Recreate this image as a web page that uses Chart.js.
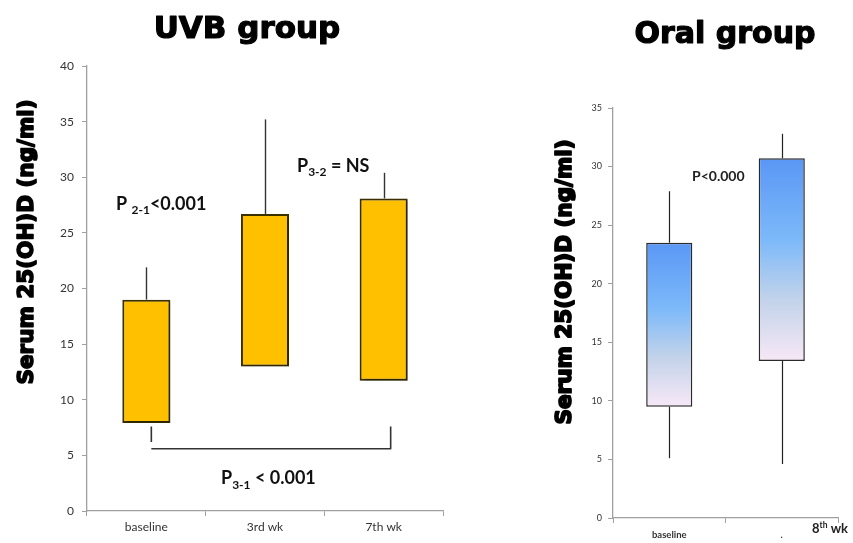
<!DOCTYPE html>
<html>
<head>
<meta charset="utf-8">
<script src="https://cdn.jsdelivr.net/npm/chart.js@4"></script>
<style>
  body { margin: 0; width: 853px; height: 543px; background: #fff; position: relative; overflow: hidden; }
  #uvb { position: absolute; left: 0; top: 0; }
  #oral { position: absolute; left: 540px; top: 0; }
</style>
</head>
<body>
<canvas id="uvb" width="450" height="543"></canvas>
<canvas id="oral" width="313" height="543"></canvas>
<script>
// UVB group
const uvbLabels = ["baseline", "3rd wk", "7th wk"];
const uvbBoxLow = [7.9, 13.0, 11.7];
const uvbBoxHigh = [19.0, 26.7, 28.1];
const uvbWhiskerHigh = [21.9, 35.2, 30.4];
const uvbBracketLeft = [7.6, 6.2];
const uvbBracketRight = [7.6, 5.6];

// Oral group
const oralLabels = ["baseline", "8th wk"];
const oralTickText = ["baseline", "."];
const oralBoxLow = [9.5, 13.4];
const oralBoxHigh = [23.5, 30.7];
const oralWhiskerLow = [5.1, 4.6];
const oralWhiskerHigh = [27.9, 32.8];

const AXIS = "#a0a0a0";

// draws runs of text with different fonts / baseline shifts
function drawRuns(ctx, runs, x, y) {
  let cx = x;
  runs.forEach(([t, font, dy]) => {
    ctx.font = font;
    ctx.fillText(t, cx, y + dy);
    cx += ctx.measureText(t).width;
  });
}

function heavyText(ctx, text, x, y, size, stroke) {
  ctx.font = "bold " + size + "px 'DejaVu Sans'";
  ctx.textAlign = "center";
  ctx.textBaseline = "alphabetic";
  ctx.fillStyle = "#000";
  ctx.strokeStyle = "#000";
  ctx.lineWidth = stroke || 1.1;
  ctx.lineJoin = "round";
  ctx.fillText(text, x, y);
  ctx.strokeText(text, x, y);
}

const whiskers = {
  id: "whiskers",
  afterDatasetsDraw(chart, args, opts) {
    const { ctx, scales: { x, y } } = chart;
    ctx.save();
    ctx.strokeStyle = opts.color;
    ctx.lineWidth = opts.width;
    opts.high.forEach((v, i) => {
      const px = Math.round(x.getPixelForValue(i)) + 0.5;
      ctx.beginPath();
      ctx.moveTo(px, y.getPixelForValue(opts.boxHigh[i]));
      ctx.lineTo(px, y.getPixelForValue(v));
      if (opts.low) {
        ctx.moveTo(px, y.getPixelForValue(opts.boxLow[i]));
        ctx.lineTo(px, y.getPixelForValue(opts.low[i]));
      }
      ctx.stroke();
    });
    ctx.restore();
  },
};

const barShadow = {
  id: "barShadow",
  beforeDatasetDraw(chart, args, opts) {
    if (!opts.on) return;
    const ctx = chart.ctx;
    ctx.save();
    ctx.shadowColor = "rgba(0,0,0,0.35)";
    ctx.shadowBlur = 3;
    ctx.shadowOffsetX = 2;
    ctx.shadowOffsetY = 2;
  },
  afterDatasetDraw(chart, args, opts) {
    if (opts.on) chart.ctx.restore();
  },
};

const uvbText = {
  id: "uvbText",
  afterDraw(chart) {
    const { ctx, scales: { x, y } } = chart;
    ctx.save();
    heavyText(ctx, "UVB group", 247, 38, 31, 1.2);
    ctx.save();
    ctx.translate(25, 242);
    ctx.rotate(-Math.PI / 2);
    heavyText(ctx, "Serum 25(OH)D (ng/ml)", 0, 8, 21.5, 1.6);
    ctx.restore();

    // bracket between baseline and 7th wk
    ctx.strokeStyle = "#333";
    ctx.lineWidth = 1.6;
    const xl = x.getPixelForValue(0) + 5;
    const xr = x.getPixelForValue(2) + 7;
    ctx.beginPath();
    ctx.moveTo(xl, y.getPixelForValue(uvbBracketLeft[0]));
    ctx.lineTo(xl, y.getPixelForValue(uvbBracketLeft[1]));
    ctx.moveTo(xl, y.getPixelForValue(uvbBracketRight[1]));
    ctx.lineTo(xr, y.getPixelForValue(uvbBracketRight[1]));
    ctx.lineTo(xr, y.getPixelForValue(uvbBracketRight[0]));
    ctx.stroke();

    ctx.fillStyle = "#111";
    ctx.textAlign = "left";
    ctx.textBaseline = "alphabetic";
    const big = "bold 18px Lato", sub = "bold 12px Lato";
    drawRuns(ctx, [["P ", big, 0], ["2-1", sub, 4], ["<0.001", big, 0]], 116, 210);
    drawRuns(ctx, [["P", big, 0], ["3-2", sub, 4], [" = NS", big, 0]], 297, 172);
    drawRuns(ctx, [["P", big, 0], ["3-1", sub, 5], [" < 0.001", big, 0]], 221, 484);
    ctx.restore();
  },
};

const oralText = {
  id: "oralText",
  afterDraw(chart) {
    const ctx = chart.ctx;
    ctx.save();
    heavyText(ctx, "Oral group", 185, 43, 30, 1.2);
    ctx.save();
    ctx.translate(23, 282);
    ctx.rotate(-Math.PI / 2);
    heavyText(ctx, "Serum 25(OH)D (ng/ml)", 0, 8, 21.5, 1.8);
    ctx.restore();
    ctx.fillStyle = "#222";
    ctx.textAlign = "left";
    drawRuns(ctx, [["P<0.000", "bold 14px Lato", 0]], 152, 181);
    drawRuns(ctx, [["8", "bold 13px Lato", 0], ["th", "bold 8.5px Lato", -5], [" wk", "bold 13px Lato", 0]], 272, 533);
    ctx.restore();
  },
};

function axisOptions(max, yWidth, xHeight, yFont, xFont, yPad, xTicks) {
  return {
    x: {
      offset: true,
      grid: { offset: true, drawOnChartArea: false, color: AXIS, tickLength: 5 },
      border: { color: AXIS, width: 1.3 },
      ticks: Object.assign({ color: "#333", font: xFont, padding: 4 }, xTicks || {}),
      afterFit: (s) => { s.height = xHeight; },
    },
    y: {
      min: 0,
      max: max,
      grid: { drawOnChartArea: false, color: AXIS, tickLength: 5 },
      border: { color: AXIS, width: 1.3 },
      ticks: { stepSize: 5, color: "#333", font: yFont, padding: yPad },
      afterFit: (s) => { s.width = yWidth; },
    },
  };
}

new Chart(document.getElementById("uvb"), {
  type: "bar",
  data: {
    labels: uvbLabels,
    datasets: [
      {
        data: uvbBoxLow.map((v, i) => [v, uvbBoxHigh[i]]),
        backgroundColor: "#FFC000",
        borderColor: "#3b3000",
        borderWidth: 2,
        borderSkipped: false,
        categoryPercentage: 1,
        barPercentage: 0.405,
      },
    ],
  },
  options: {
    responsive: false,
    animation: false,
    layout: { padding: { top: 66, right: 7, left: 0, bottom: 0 } },
    plugins: {
      legend: { display: false },
      tooltip: { enabled: false },
      whiskers: { high: uvbWhiskerHigh, boxHigh: uvbBoxHigh, boxLow: uvbBoxLow, color: "#333", width: 1.4 },
      barShadow: { on: true },
    },
    scales: axisOptions(40, 87, 32, { family: "Lato", size: 12 }, { family: "Lato", size: 12 }, 8),
  },
  plugins: [barShadow, whiskers, uvbText],
});

function oralGradient(context) {
  const chart = context.chart;
  const y = chart.scales.y;
  if (!y || !chart.chartArea) return "#7ab6f8";
  const i = context.dataIndex;
  const top = y.getPixelForValue(oralBoxHigh[i]);
  const bottom = y.getPixelForValue(oralBoxLow[i]);
  const g = chart.ctx.createLinearGradient(0, top, 0, bottom);
  g.addColorStop(0, "#5a97f5");
  g.addColorStop(0.4, "#7cb9f9");
  g.addColorStop(0.7, "#c3d3ea");
  g.addColorStop(1, "#f7e8f6");
  return g;
}

new Chart(document.getElementById("oral"), {
  type: "bar",
  data: {
    labels: oralLabels,
    datasets: [
      {
        data: oralBoxLow.map((v, i) => [v, oralBoxHigh[i]]),
        backgroundColor: oralGradient,
        borderColor: "#2a2a2a",
        borderWidth: 1.5,
        borderSkipped: false,
        categoryPercentage: 1,
        barPercentage: 0.41,
      },
    ],
  },
  options: {
    responsive: false,
    animation: false,
    layout: { padding: { top: 108, right: 15, left: 0, bottom: 0 } },
    plugins: {
      legend: { display: false },
      tooltip: { enabled: false },
      whiskers: { high: oralWhiskerHigh, low: oralWhiskerLow, boxHigh: oralBoxHigh, boxLow: oralBoxLow, color: "#222", width: 1.2 },
      barShadow: { on: false },
    },
    scales: axisOptions(35, 73, 25, { family: "Lato", size: 9 }, { family: "Lato", size: 9.5, weight: "bold" }, 6, {
      callback: (v, i) => oralTickText[i],
      padding: 6,
    }),
  },
  plugins: [barShadow, whiskers, oralText],
});
</script>
</body>
</html>
